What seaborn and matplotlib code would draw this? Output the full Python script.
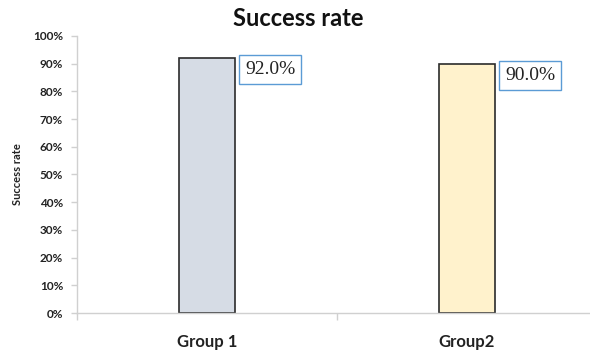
import matplotlib
matplotlib.use("Agg")
import matplotlib.pyplot as plt
import matplotlib.transforms as mtransforms
import seaborn as sns
import pandas as pd
from matplotlib.ticker import FixedLocator

categories = ["Group 1", "Group2"]
values = [92.0, 90.0]
labels = ["92.0%", "90.0%"]
colors = ["#D6DCE5", "#FFF2CC"]
yticks = [0, 10, 20, 30, 40, 50, 60, 70, 80, 90, 100]

sns.set_theme(style="white")
plt.rcParams['font.family'] = ['Lato', 'DejaVu Sans']

df = pd.DataFrame({"group": categories, "rate": values})

fig = plt.figure(figsize=(5.9, 3.52), dpi=100)
ax = fig.add_axes([77/590, 1-313/352, 520/590, (313-36)/352])

w = 0.215
sns.barplot(data=df, x="group", y="rate", hue="group", palette=colors, saturation=1,
            width=w, edgecolor="#2b2b2b", linewidth=1.2, legend=False, ax=ax)

ax.set_ylim(0, 100)
ax.set_xlim(-0.5, 1.5)
ax.set_yticks(yticks)
ax.set_yticklabels([f"{t}%" for t in yticks], fontsize=8.5, fontweight="bold", color="#222222")
ax.set_xticks(range(len(categories)))
ax.set_xticklabels(categories, fontsize=12, fontweight="bold", color="#222222")
ax.xaxis.set_minor_locator(FixedLocator([-0.5, 0.5, 1.5]))
ax.tick_params(axis="x", which="major", length=0, pad=15)
ax.tick_params(axis="x", which="minor", length=5, color="#d0d0d0", width=1, direction="out", bottom=True)
ax.tick_params(axis="y", length=4, color="#d0d0d0", width=1, direction="out", left=True, pad=6)

for s in ["top", "right"]:
    ax.spines[s].set_visible(False)
for s in ["left", "bottom"]:
    ax.spines[s].set_color("#d0d0d0")
    ax.spines[s].set_linewidth(1)

ax.set_xlabel("")
ax.set_ylabel("Success rate", fontsize=8, fontweight="bold", color="#222222", labelpad=7)
fig.text(298/590, 1-18/352, "Success rate", ha="center", va="center",
         fontsize=17, fontweight="bold", color="#111111")

for i, (v, lab) in enumerate(zip(values, labels)):
    trans = mtransforms.offset_copy(ax.transData, fig=fig, x=10, y=-3, units="dots")
    ax.text(i + w/2, v, lab, transform=trans, ha="left", va="top",
            fontsize=14, family=["Liberation Serif", "DejaVu Serif"], color="#222222",
            bbox=dict(boxstyle="square,pad=0.3", facecolor="white", edgecolor="#5B9BD5", linewidth=1))

fig.savefig("out.png", dpi=100)
